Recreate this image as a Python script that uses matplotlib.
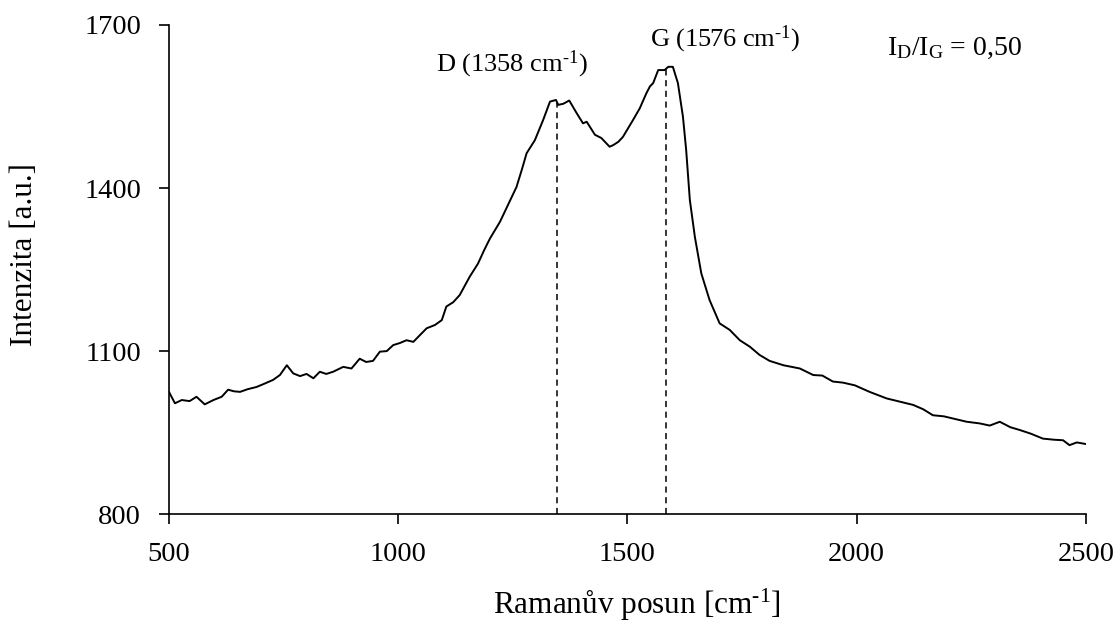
import matplotlib
matplotlib.use("Agg")
import matplotlib.pyplot as plt

plt.rcParams['font.family'] = ['Liberation Serif', 'DejaVu Serif']
plt.rcParams['mathtext.fontset'] = 'custom'
plt.rcParams['mathtext.rm'] = 'Liberation Serif'
plt.rcParams['mathtext.it'] = 'Liberation Serif:italic'

# Raman spectrum
shift = [500, 513, 528, 545, 560, 578, 597, 615, 629, 642, 655, 672, 691, 708, 727, 742,
         757, 771, 786, 800, 815, 829, 843, 858, 880, 898, 916, 930, 945, 960, 975, 989,
         1004, 1018, 1033, 1048, 1062, 1080, 1095, 1105, 1120, 1134, 1156, 1174, 1187, 1200,
         1222, 1240, 1258, 1270, 1280, 1298, 1316, 1331, 1344, 1349, 1360, 1373, 1389, 1403,
         1411, 1429, 1443, 1461, 1469, 1480, 1490, 1512, 1527, 1541, 1549, 1556, 1567, 1581,
         1589, 1599, 1610, 1621, 1628, 1636, 1647, 1661, 1679, 1701, 1723, 1745, 1767, 1788,
         1810, 1840, 1876, 1905, 1925, 1948, 1970, 1996, 2028, 2065, 2094, 2123, 2145, 2166,
         2190, 2210, 2240, 2268, 2290, 2312, 2335, 2355, 2380, 2406, 2430, 2450, 2464, 2480,
         2500]
intensity = [1025, 1004, 1010, 1008, 1016, 1002, 1010, 1016, 1029, 1026, 1025, 1030, 1034, 1040,
             1047, 1056, 1074, 1059, 1054, 1058, 1050, 1062, 1058, 1062, 1071, 1068, 1086, 1080,
             1082, 1099, 1100, 1111, 1115, 1120, 1117, 1130, 1142, 1148, 1157, 1182, 1190, 1203,
             1237, 1261, 1285, 1307, 1338, 1370, 1402, 1435, 1464, 1488, 1525, 1559, 1562, 1553,
             1555, 1561, 1538, 1519, 1522, 1498, 1492, 1476, 1479, 1485, 1494, 1525, 1547, 1574,
             1587, 1593, 1617, 1617, 1623, 1623, 1593, 1531, 1470, 1378, 1310, 1243, 1194, 1151,
             1139, 1120, 1108, 1093, 1082, 1074, 1068, 1056, 1055, 1044, 1042, 1037, 1025, 1013,
             1007, 1001, 993, 982, 980, 976, 970, 967, 963, 970, 960, 955, 948, 939, 937, 936,
             927, 932, 929]

d_pos = 1347
g_pos = 1585
d_label = "D (1358 cm$^{\\text{-1}}$)"
g_label = "G (1576 cm$^{\\text{-1}}$)"
ratio_label = "I$_{\\mathrm{D}}$/I$_{\\mathrm{G}}$ = 0,50"

fig = plt.figure(figsize=(11.19, 6.24), dpi=100)
ax = fig.add_axes([0.151, 0.176, 0.8195, 0.784])
ax.plot(shift, intensity, color='black', lw=1.4)

def value_at(x):
    for i in range(len(shift) - 1):
        if shift[i] <= x <= shift[i + 1]:
            t = (x - shift[i]) / (shift[i + 1] - shift[i])
            return intensity[i] + t * (intensity[i + 1] - intensity[i])
    return intensity[-1]

for p in (d_pos, g_pos):
    ax.plot([p, p], [800, value_at(p)], color='black', lw=1.1, ls=(0, (4, 3)))

ax.set_xlim(500, 2500)
ax.set_ylim(800, 1700)
ax.set_xticks([500, 1000, 1500, 2000, 2500])
ax.set_yticks([800, 1100, 1400, 1700])
ax.spines['top'].set_visible(False)
ax.spines['right'].set_visible(False)
for s in ('left', 'bottom'):
    ax.spines[s].set_linewidth(1.2)
ax.tick_params(direction='out', length=7, width=1.2, labelsize=20.5)
ax.tick_params(axis='y', pad=13)
ax.tick_params(axis='x', pad=13)

ax.set_xlabel("Ramanův posun [cm$^{\\text{-1}}$]", fontsize=22.5)
ax.set_ylabel("Intenzita [a.u.]", fontsize=22.5)
ax.xaxis.set_label_coords(0.51, -0.148)
ax.yaxis.set_label_coords(-0.142, 0.53)

ax.text(1248, 1627, d_label, fontsize=19, ha='center', va='center')
ax.text(1712, 1674, g_label, fontsize=19, ha='center', va='center')
ax.text(2067, 1657, ratio_label, fontsize=20, ha='left', va='center')

fig.savefig("out.png", dpi=100)
